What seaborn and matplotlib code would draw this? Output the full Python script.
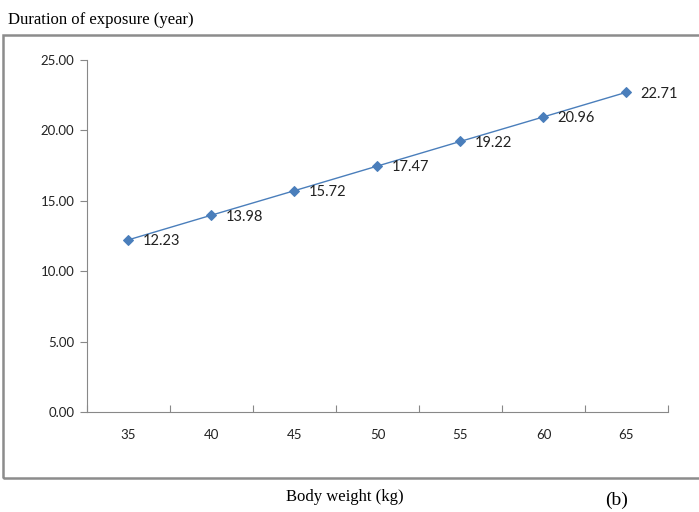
import seaborn as sns
import matplotlib.pyplot as plt
import pandas as pd
from matplotlib.patches import Rectangle

# values
body_weight = [35, 40, 45, 50, 55, 60, 65]
exposure_years = [12.23, 13.98, 15.72, 17.47, 19.22, 20.96, 22.71]
y_ticks = [0, 5, 10, 15, 20, 25]

LINE_COLOR = "#4a7ebb"
AXIS_COLOR = "#888888"
TICK_FONT = "Lato"

sns.set_theme(style="white")
plt.rcParams['font.family'] = ['Lato', 'DejaVu Sans']

df = pd.DataFrame({"weight": body_weight, "years": exposure_years})

fig = plt.figure(figsize=(6.99, 5.12), dpi=100)
ax = fig.add_axes([87 / 699, 1 - 412 / 512, (668 - 87) / 699, (412 - 60) / 512])

sns.lineplot(data=df, x="weight", y="years", ax=ax, color=LINE_COLOR, linewidth=1.0,
             marker="D", markersize=5, markeredgecolor=LINE_COLOR, markerfacecolor=LINE_COLOR)

# data labels to the right of each point
for x, y in zip(body_weight, exposure_years):
    ax.annotate(f"{y:.2f}", (x, y), xytext=(10, -1), textcoords="offset points",
                ha="left", va="center", fontsize=10.5, color="#222222", family=TICK_FONT)

# category style x axis: tick marks between categories, labels at the centres
ax.set_xlim(body_weight[0] - 2.5, body_weight[-1] + 2.5)
ax.set_xticks(body_weight)
ax.set_xticklabels([str(v) for v in body_weight], fontsize=9.5, color="#222222", family=TICK_FONT)
ax.set_xticks([v - 2.5 for v in body_weight] + [body_weight[-1] + 2.5], minor=True)
ax.tick_params(axis="x", which="major", length=0, pad=12)
ax.tick_params(axis="x", which="minor", length=5, direction="in", color=AXIS_COLOR, width=0.8)
ax.xaxis.set_tick_params(which="minor", bottom=True)

ax.set_ylim(0, 25)
ax.set_yticks(y_ticks)
ax.set_yticklabels([f"{v:.2f}" for v in y_ticks], fontsize=9.5, color="#222222", family=TICK_FONT)
ax.tick_params(axis="y", length=5, direction="out", color=AXIS_COLOR, width=0.8, pad=4, left=True)

for side in ["top", "right"]:
    ax.spines[side].set_visible(False)
for side in ["left", "bottom"]:
    ax.spines[side].set_color(AXIS_COLOR)
    ax.spines[side].set_linewidth(0.8)

ax.set_xlabel("")
ax.set_ylabel("")
ax.grid(False)

# outer chart border
fig.patches.append(Rectangle((3 / 699, 1 - 478 / 512), 0.999, (478 - 35) / 512,
                             transform=fig.transFigure, fill=False,
                             edgecolor="#8c8c8c", linewidth=1.8))

serif = ["Liberation Serif", "DejaVu Serif"]
fig.text(8 / 699, 1 - 20 / 512, "Duration of exposure (year)", family=serif,
         fontsize=12, ha="left", va="center", color="black")
fig.text(345 / 699, 1 - 497 / 512, "Body weight (kg)", family=serif,
         fontsize=12, ha="center", va="center", color="black")
fig.text(617 / 699, 1 - 500 / 512, "(b)", family=serif,
         fontsize=14, ha="center", va="center", color="black")

fig.savefig("out.png", dpi=100)
plt.close(fig)
